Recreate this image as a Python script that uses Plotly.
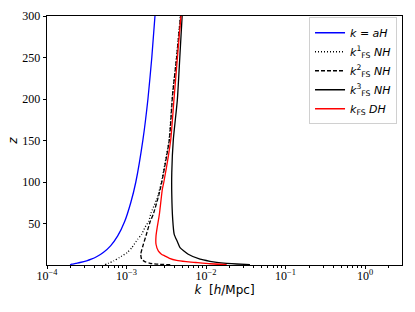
import plotly.graph_objects as go

# --- data ---
z_aH = [0.3, 1, 2, 3, 5, 7, 10, 15, 23, 35, 52, 75, 100, 151, 200, 250, 300]
k_aH = [1.95e-4, 2.05e-4, 2.3e-4, 2.6e-4, 3.15e-4, 3.6e-4, 4.2e-4, 5.1e-4, 6.3e-4,
        7.75e-4, 9.45e-4, 1.13e-3, 1.31e-3, 1.61e-3, 1.86e-3, 2.08e-3, 2.28e-3]

z_nh1 = [0.5, 2, 5, 9, 15, 21, 31, 37, 45, 53, 63, 79, 100, 151, 205, 250, 300]
k_nh1 = [5.37e-4, 5.89e-4, 6.92e-4, 8.13e-4, 1.02e-3, 1.17e-3, 1.38e-3, 1.55e-3,
         1.70e-3, 1.91e-3, 2.04e-3, 2.40e-3, 2.75e-3, 3.43e-3, 3.78e-3, 4.25e-3, 4.76e-3]

z_nh2 = [0.3, 1, 2, 4, 7, 13, 25, 37, 52, 61, 85, 100, 151, 205, 250, 300]
k_nh2 = [3.55e-3, 2.51e-3, 1.98e-3, 1.70e-3, 1.55e-3, 1.51e-3, 1.63e-3, 1.78e-3,
         1.98e-3, 2.17e-3, 2.56e-3, 2.78e-3, 3.46e-3, 3.80e-3, 4.27e-3, 4.79e-3]

z_nh3 = [0.5, 1.2, 2, 3.2, 4.5, 7, 13, 21, 28, 37, 55, 85, 111, 151, 199, 250, 300]
k_nh3 = [3.57e-2, 2.43e-2, 1.82e-2, 1.36e-2, 1.12e-2, 8.41e-3, 5.98e-3, 4.71e-3,
         4.37e-3, 3.98e-3, 3.81e-3, 3.71e-3, 3.71e-3, 3.88e-3, 4.36e-3, 4.68e-3, 5.01e-3]

z_dh = [0.5, 1.5, 3, 4, 5.5, 8, 11, 13, 17, 25, 35, 45, 61, 91, 100, 151, 199, 250, 300]
k_dh = [1.82e-2, 1.12e-2, 7.41e-3, 5.62e-3, 4.27e-3, 3.47e-3, 3.02e-3, 2.75e-3,
        2.51e-3, 2.35e-3, 2.35e-3, 2.43e-3, 2.59e-3, 2.82e-3, 2.95e-3, 3.60e-3,
        3.95e-3, 4.37e-3, 4.84e-3]

x_tick_vals = [1e-4, 1e-3, 1e-2, 1e-1, 1e0]
x_tick_text = ["10<sup>\u22124</sup>", "10<sup>\u22123</sup>", "10<sup>\u22122</sup>",
               "10<sup>\u22121</sup>", "10<sup>0</sup>"]
y_tick_vals = [50, 100, 150, 200, 250, 300]

series = [
    (k_aH, z_aH, "<i>k</i> = <i>aH</i>", "#0000ff", "solid"),
    (k_nh1, z_nh1, "<i>k</i><sup>1</sup><sub>FS</sub> <i>NH</i>", "black", "1px,2px"),
    (k_nh2, z_nh2, "<i>k</i><sup>2</sup><sub>FS</sub> <i>NH</i>", "black", "4px,2px"),
    (k_nh3, z_nh3, "<i>k</i><sup>3</sup><sub>FS</sub> <i>NH</i>", "black", "solid"),
    (k_dh, z_dh, "<i>k</i><sub>FS</sub> <i>DH</i>", "#ff0000", "solid"),
]

fig = go.Figure()
for kx, zy, name, col, dash in series:
    fig.add_trace(go.Scatter(x=kx, y=zy, mode="lines", name=name,
                             line=dict(color=col, width=1.3, dash=dash, shape="spline",
                                       smoothing=0.5)))

minor_vals = [m * 10.0 ** e for e in range(-4, 1) for m in range(2, 10)]

fig.update_layout(
    width=415, height=312,
    margin=dict(l=47, r=13, t=16, b=47),
    paper_bgcolor="white", plot_bgcolor="white",
    showlegend=True,
    legend=dict(x=0.986, y=0.995, xanchor="right", yanchor="top",
                bordercolor="#d0d0d0", borderwidth=1, bgcolor="rgba(255,255,255,0.8)",
                font=dict(family="DejaVu Sans", size=11, color="black"),
                tracegroupgap=0, itemwidth=30),
    xaxis=dict(type="log", range=[-4, 0.465], automargin=False,
               tickmode="array", tickvals=x_tick_vals, ticktext=x_tick_text,
               ticks="outside", ticklen=3.5, tickwidth=0.8, tickcolor="black",
               ticklabelstandoff=-4,
               minor=dict(tickmode="array", tickvals=minor_vals, ticks="outside",
                          ticklen=2, tickwidth=0.6, tickcolor="black", showgrid=False),
               showgrid=False, zeroline=False,
               showline=True, linecolor="black", linewidth=0.8, mirror=True,
               tickfont=dict(family="Liberation Serif", size=12, color="black"),
               title=dict(text="<i>k</i>  [<i>h</i>/Mpc]", standoff=2,
                          font=dict(family="DejaVu Sans", size=12, color="black"))),
    yaxis=dict(range=[0, 300], tickmode="array", tickvals=y_tick_vals, automargin=False,
               ticks="outside", ticklen=3.5, tickwidth=0.8, tickcolor="black",
               showgrid=False, zeroline=False,
               showline=True, linecolor="black", linewidth=0.8, mirror=True,
               tickfont=dict(family="Liberation Serif", size=12, color="black"),
               title=dict(text="<i>z</i>", standoff=2,
                          font=dict(family="DejaVu Sans", size=12, color="black"))),
)

fig.write_html("out.html", config={"displayModeBar": False},
               post_script="document.body.style.margin='0px';document.body.style.overflow='hidden';")
